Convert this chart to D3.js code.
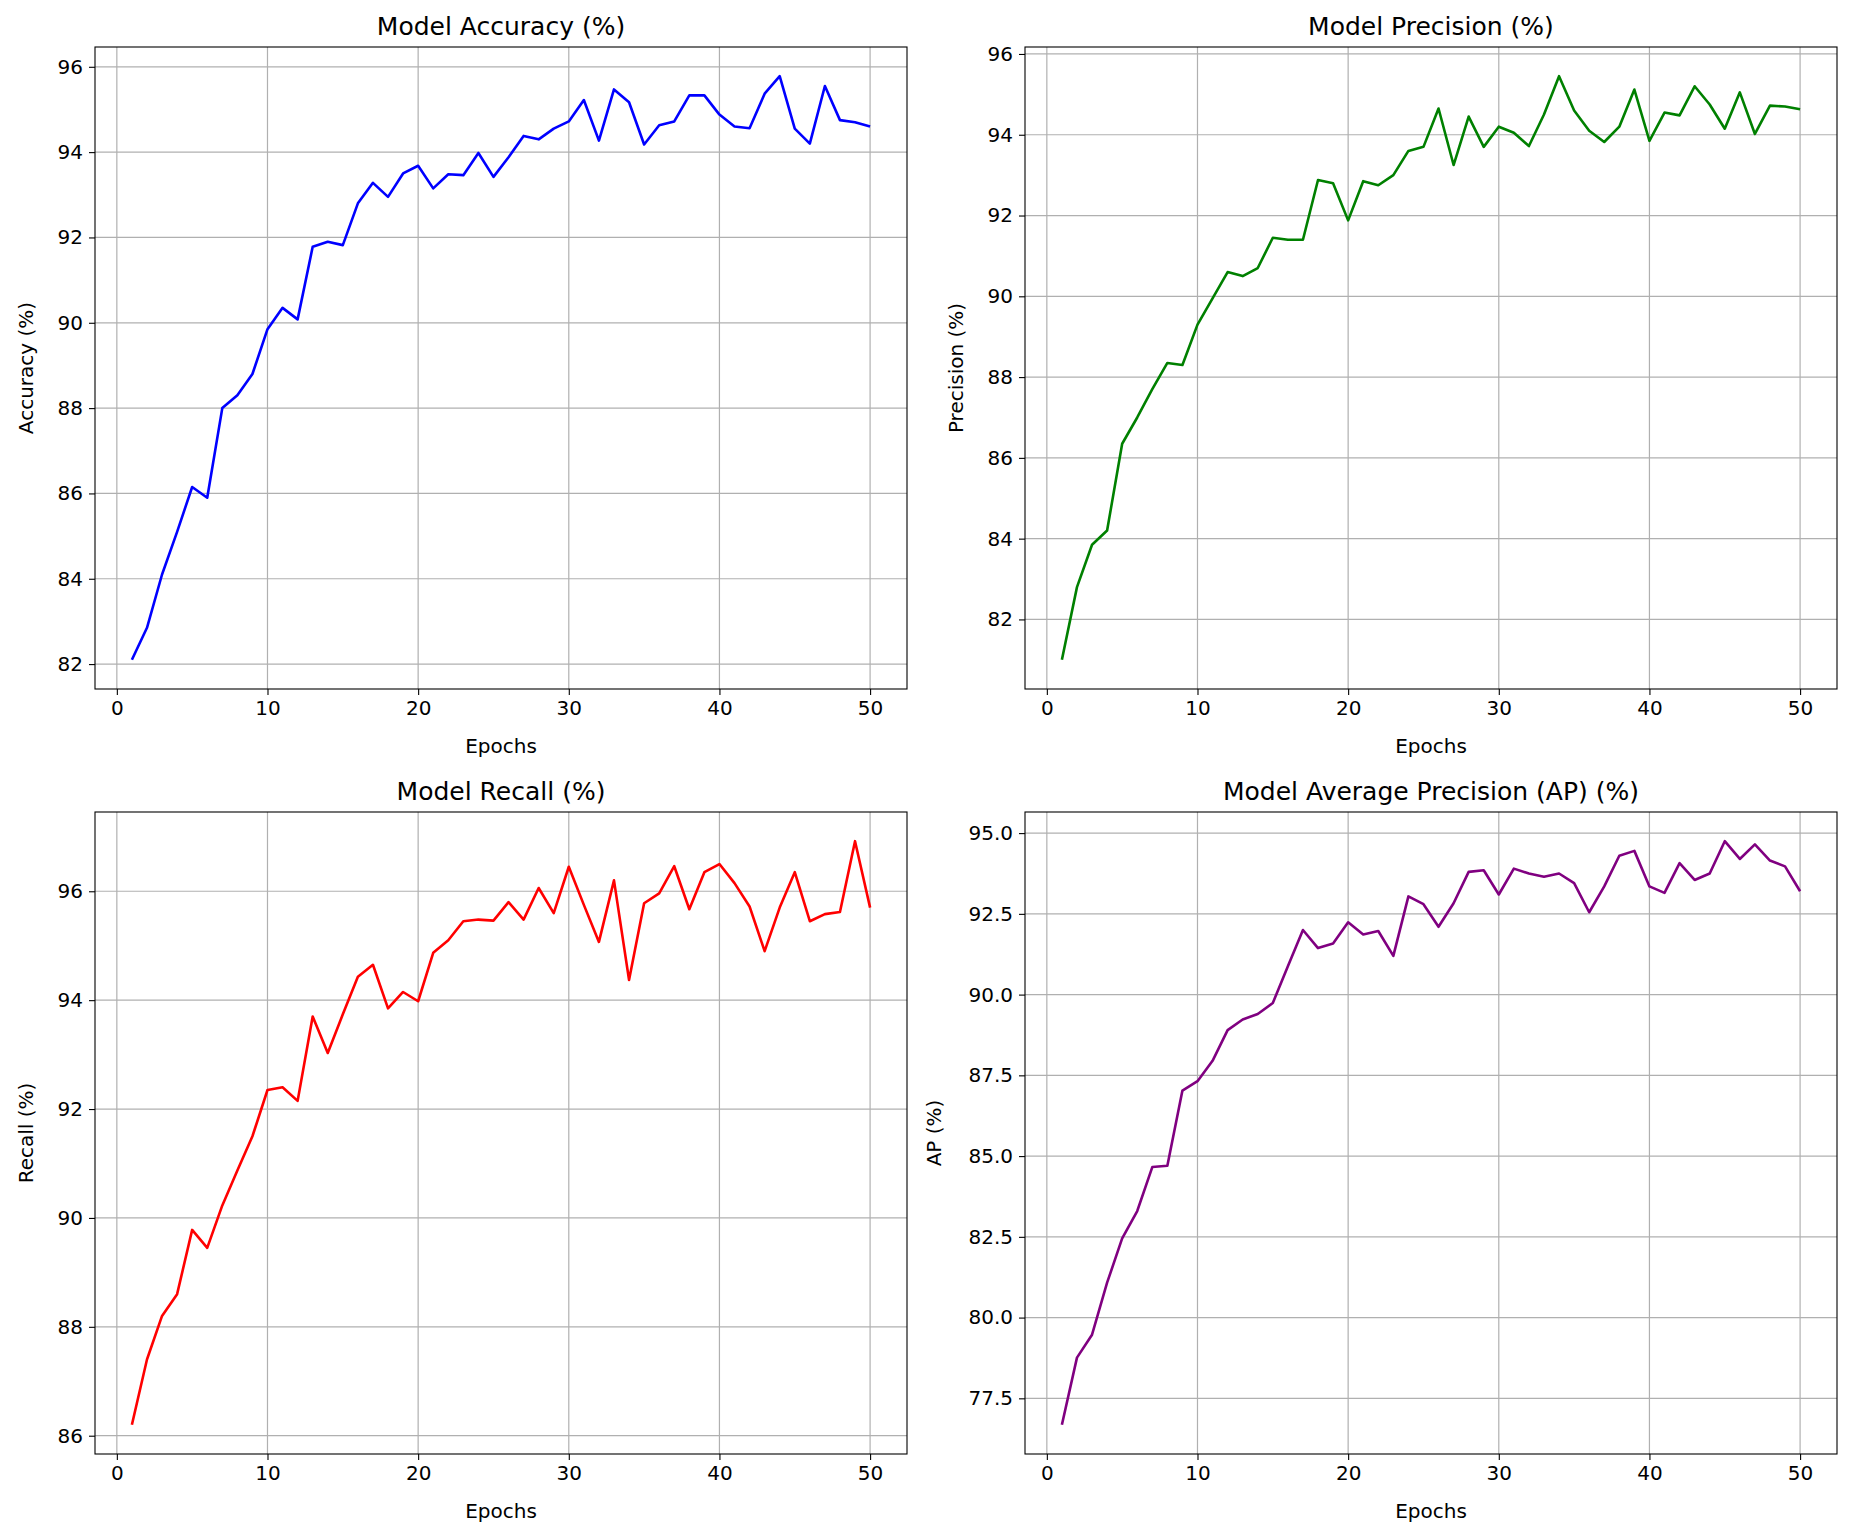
<!DOCTYPE html>
<html>
<head>
<meta charset="utf-8">
<script src="https://cdn.jsdelivr.net/npm/d3@7"></script>
<style>
  body { margin: 0; background: #fff; }
  svg { display: block; font-family: "DejaVu Sans", sans-serif; }
</style>
</head>
<body>
<script>
"use strict";

var epochs = d3.range(1, 51);

var accuracy = [82.1, 82.85, 84.1, 85.1, 86.15, 85.9, 88.0, 88.3, 88.8, 89.85,
  90.35, 90.08, 91.78, 91.9, 91.82, 92.8, 93.28, 92.95, 93.5, 93.68,
  93.15, 93.48, 93.46, 93.98, 93.42, 93.88, 94.38, 94.3, 94.55, 94.72,
  95.22, 94.27, 95.47, 95.17, 94.18, 94.63, 94.72, 95.33, 95.33, 94.88,
  94.6, 94.56, 95.37, 95.78, 94.55, 94.2, 95.55, 94.75, 94.7, 94.6];

var precision = [81.0, 82.8, 83.85, 84.2, 86.35, 87.0, 87.7, 88.35, 88.3, 89.3,
  89.95, 90.6, 90.5, 90.7, 91.45, 91.4, 91.4, 92.88, 92.8, 91.88,
  92.85, 92.75, 93.0, 93.6, 93.7, 94.65, 93.25, 94.45, 93.7, 94.2,
  94.05, 93.72, 94.5, 95.45, 94.6, 94.1, 93.82, 94.2, 95.12, 93.85,
  94.55, 94.48, 95.2, 94.75, 94.15, 95.05, 94.02, 94.72, 94.7, 94.63];

var recall = [86.2, 87.4, 88.2, 88.6, 89.78, 89.45, 90.23, 90.87, 91.5, 92.35,
  92.4, 92.15, 93.7, 93.03, 93.74, 94.43, 94.65, 93.85, 94.15, 93.98,
  94.87, 95.1, 95.45, 95.48, 95.46, 95.8, 95.48, 96.06, 95.6, 96.45,
  95.75, 95.07, 96.2, 94.37, 95.78, 95.96, 96.46, 95.67, 96.35, 96.5,
  96.15, 95.72, 94.9, 95.7, 96.35, 95.45, 95.58, 95.62, 96.92, 95.7];

var ap = [76.68, 78.76, 79.47, 81.08, 82.45, 83.3, 84.66, 84.7, 87.03, 87.32,
  87.95, 88.9, 89.23, 89.4, 89.74, 90.88, 92.0, 91.44, 91.58, 92.24,
  91.86, 91.97, 91.2, 93.04, 92.8, 92.1, 92.83, 93.8, 93.85, 93.1,
  93.9, 93.75, 93.65, 93.75, 93.45, 92.55, 93.35, 94.3, 94.45, 93.35,
  93.15, 94.07, 93.55, 93.75, 94.75, 94.2, 94.65, 94.15, 93.97, 93.2];

var xTicks = [0, 10, 20, 30, 40, 50];
var accTicks = [82, 84, 86, 88, 90, 92, 94, 96];
var precTicks = [82, 84, 86, 88, 90, 92, 94, 96];
var recTicks = [86, 88, 90, 92, 94, 96];
var apTicks = [77.5, 80.0, 82.5, 85.0, 87.5, 90.0, 92.5, 95.0];

var panels = [
  { title: "Model Accuracy (%)", ylab: "Accuracy (%)", vals: accuracy, ticks: accTicks, fmt: d3.format("d"), color: "blue", x: 95, y: 47, lab: -62 },
  { title: "Model Precision (%)", ylab: "Precision (%)", vals: precision, ticks: precTicks, fmt: d3.format("d"), color: "green", x: 1025, y: 47, lab: -62 },
  { title: "Model Recall (%)", ylab: "Recall (%)", vals: recall, ticks: recTicks, fmt: d3.format("d"), color: "red", x: 95, y: 812, lab: -62 },
  { title: "Model Average Precision (AP) (%)", ylab: "AP (%)", vals: ap, ticks: apTicks, fmt: d3.format(".1f"), color: "purple", x: 1025, y: 812, lab: -84 }
];

var W = 1856, H = 1537, pw = 812, ph = 642;
var svg = d3.select("body").append("svg").attr("width", W).attr("height", H);

panels.forEach(function(p) {
  var g = svg.append("g").attr("transform", "translate(" + p.x + "," + p.y + ")");
  var xpad = (50 - 1) * 0.05;
  var x = d3.scaleLinear().domain([1 - xpad, 50 + xpad]).range([0, pw]);
  var ext = d3.extent(p.vals), ypad = (ext[1] - ext[0]) * 0.05;
  var y = d3.scaleLinear().domain([ext[0] - ypad, ext[1] + ypad]).range([ph, 0]);

  // grid
  g.selectAll(".gx").data(xTicks).enter().append("line")
    .attr("x1", x).attr("x2", x).attr("y1", 0).attr("y2", ph)
    .attr("stroke", "#b0b0b0").attr("stroke-width", 1.2);
  g.selectAll(".gy").data(p.ticks).enter().append("line")
    .attr("y1", y).attr("y2", y).attr("x1", 0).attr("x2", pw)
    .attr("stroke", "#b0b0b0").attr("stroke-width", 1.2);

  var line = d3.line().x(function(d, i) { return x(epochs[i]); }).y(function(d) { return y(d); });
  g.append("path").datum(p.vals).attr("d", line)
    .attr("fill", "none").attr("stroke", p.color).attr("stroke-width", 2.6)
    .attr("stroke-linejoin", "round");

  var xa = g.append("g").attr("transform", "translate(0," + ph + ")")
    .call(d3.axisBottom(x).tickValues(xTicks).tickSize(6).tickPadding(6).tickFormat(d3.format("d")));
  var ya = g.append("g")
    .call(d3.axisLeft(y).tickValues(p.ticks).tickSize(6).tickPadding(6).tickFormat(p.fmt));
  [xa, ya].forEach(function(a) {
    a.select(".domain").remove();
    a.selectAll("text").style("font-size", "20px").attr("fill", "#000").style("font-family", "DejaVu Sans");
    a.selectAll("line").attr("stroke", "#000").attr("stroke-width", 1.1);
  });

  g.append("rect").attr("width", pw).attr("height", ph)
    .attr("fill", "none").attr("stroke", "#000").attr("stroke-width", 1.1);

  g.append("text").attr("x", pw / 2).attr("y", -12).attr("text-anchor", "middle")
    .style("font-size", "25px").text(p.title);
  g.append("text").attr("x", pw / 2).attr("y", ph + 64).attr("text-anchor", "middle")
    .style("font-size", "20px").text("Epochs");
  g.append("text").attr("transform", "translate(" + p.lab + "," + (ph / 2) + ") rotate(-90)")
    .attr("text-anchor", "middle").style("font-size", "20px").text(p.ylab);
});
</script>
</body>
</html>
